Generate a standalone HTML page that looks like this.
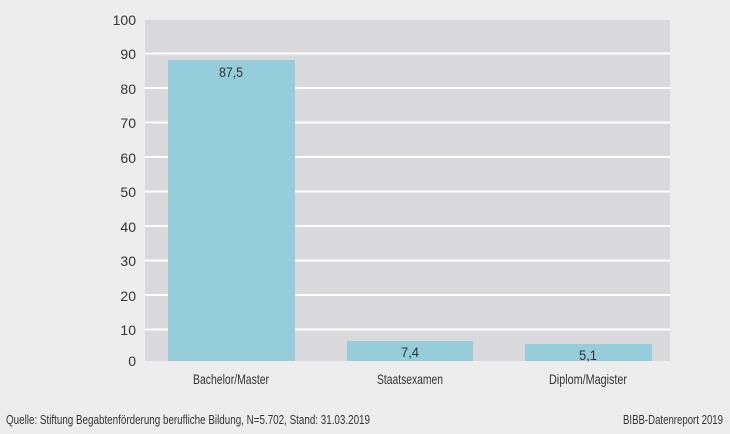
<!DOCTYPE html>
<html><head><meta charset="utf-8"><style>
html,body{margin:0;padding:0;background:#ededee;}
svg{display:block;font-family:"Liberation Sans Narrow","Liberation Sans",sans-serif;}
</style></head><body>
<svg width="730" height="434" viewBox="0 0 730 434" xmlns="http://www.w3.org/2000/svg">
<rect width="730" height="434" fill="#ededee"/>
<rect x="145" y="20" width="525" height="341" fill="#d9d9db"/>
<g stroke="#ffffff" stroke-width="2">
<line x1="145" x2="670" y1="53.5" y2="53.5"/>
<line x1="145" x2="670" y1="88" y2="88"/>
<line x1="145" x2="670" y1="122.5" y2="122.5"/>
<line x1="145" x2="670" y1="157" y2="157"/>
<line x1="145" x2="670" y1="191.5" y2="191.5"/>
<line x1="145" x2="670" y1="226" y2="226"/>
<line x1="145" x2="670" y1="260.5" y2="260.5"/>
<line x1="145" x2="670" y1="295" y2="295"/>
<line x1="145" x2="670" y1="329.5" y2="329.5"/>
</g>
<g fill="#95ceda">
<rect x="168" y="60" width="127" height="301"/>
<rect x="347" y="341" width="126" height="20"/>
<rect x="525" y="344" width="127" height="17"/>
</g>
<g font-size="14" fill="#333" text-anchor="end">
<text x="136" y="25">100</text>
<text x="136" y="59">90</text>
<text x="136" y="94">80</text>
<text x="136" y="128">70</text>
<text x="136" y="163">60</text>
<text x="136" y="197">50</text>
<text x="136" y="232">40</text>
<text x="136" y="266">30</text>
<text x="136" y="301">20</text>
<text x="136" y="335">10</text>
<text x="136" y="366">0</text>
</g>
<g font-size="14" fill="#333" text-anchor="middle" lengthAdjust="spacingAndGlyphs">
<text x="231" y="77" textLength="24" lengthAdjust="spacingAndGlyphs">87,5</text>
<text x="410" y="357" textLength="18" lengthAdjust="spacingAndGlyphs">7,4</text>
<text x="588" y="360" textLength="18" lengthAdjust="spacingAndGlyphs">5,1</text>
<text x="231" y="384" textLength="76" lengthAdjust="spacingAndGlyphs">Bachelor/Master</text>
<text x="410" y="384" textLength="66" lengthAdjust="spacingAndGlyphs">Staatsexamen</text>
<text x="588" y="384" textLength="78" lengthAdjust="spacingAndGlyphs">Diplom/Magister</text>
</g>
<g font-size="13" fill="#333">
<text x="6" y="424" textLength="364" lengthAdjust="spacingAndGlyphs">Quelle: Stiftung Begabtenförderung berufliche Bildung, N=5.702, Stand: 31.03.2019</text>
<text x="723" y="424" text-anchor="end" textLength="100" lengthAdjust="spacingAndGlyphs">BIBB-Datenreport 2019</text>
</g>
</svg>
</body></html>
